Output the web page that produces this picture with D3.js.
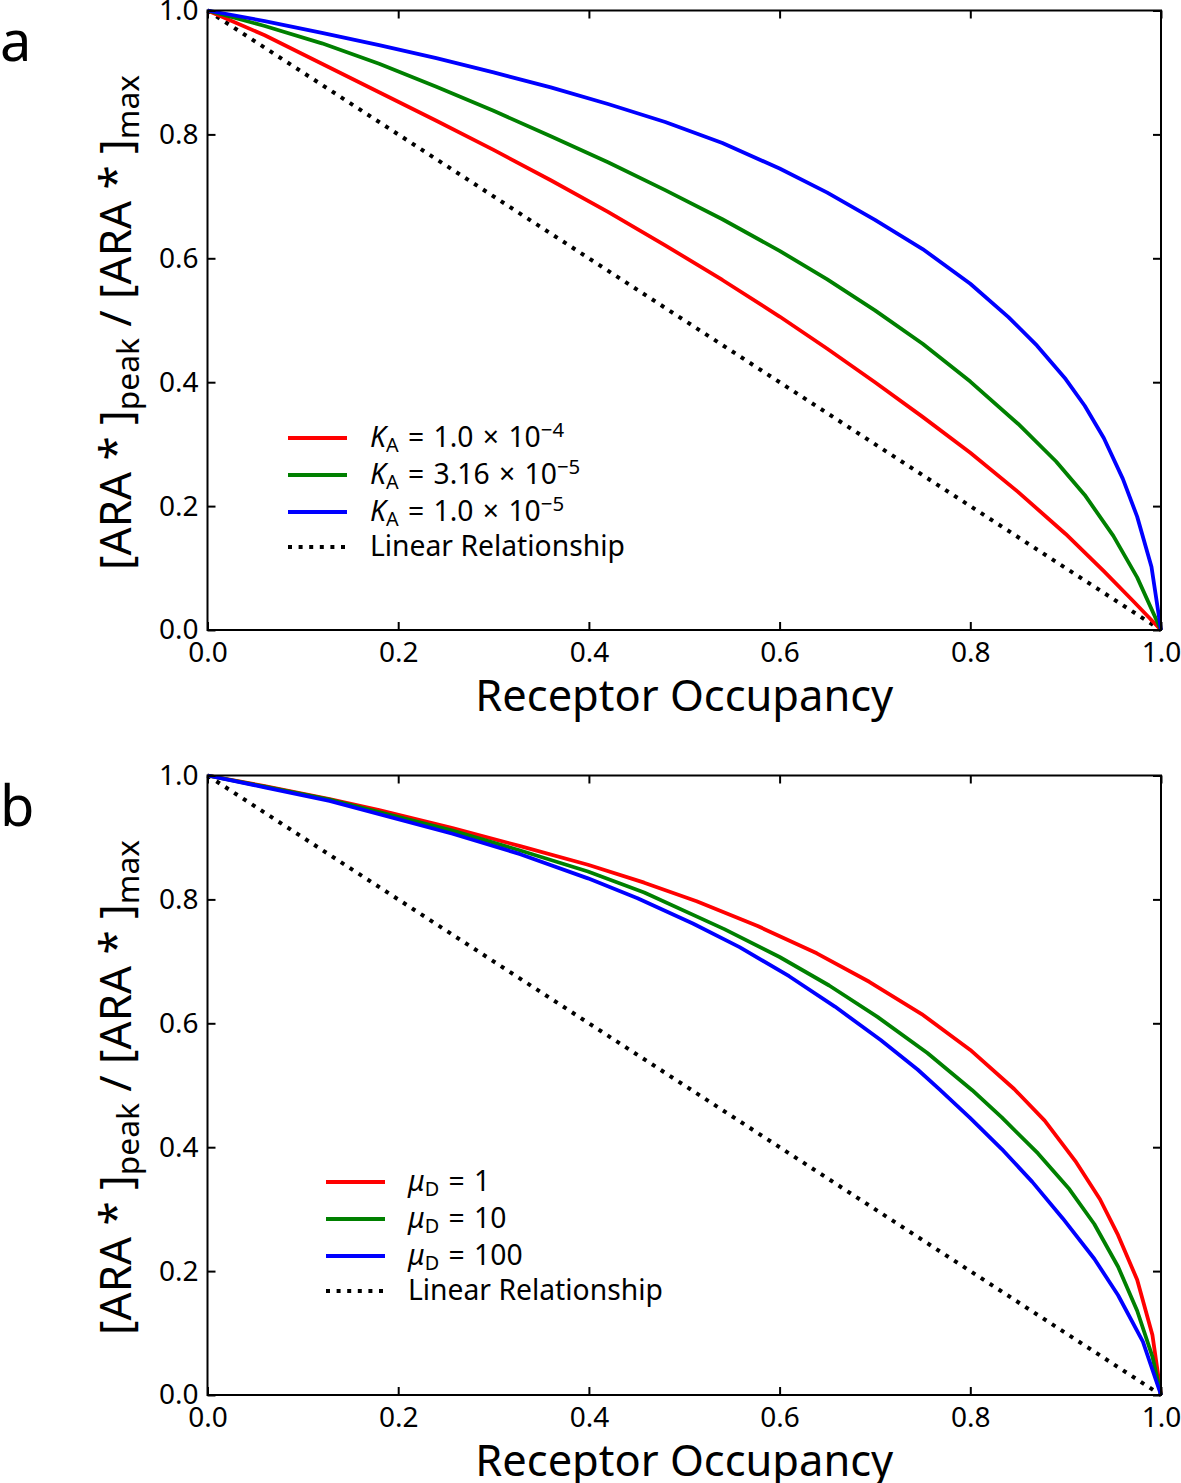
<!DOCTYPE html>
<html><head><meta charset="utf-8">
<script src="https://cdn.jsdelivr.net/npm/d3@7"></script>
<style>
body{margin:0;background:#fff}
text{font-family:"Noto Sans","DejaVu Sans",sans-serif;fill:#000}
</style>
</head><body>
<svg id="c" width="1181" height="1483"></svg>
<script>
// ---- tick values ----
const xTickValues = [0, 0.2, 0.4, 0.6, 0.8, 1.0];
const yTickValues = [0, 0.2, 0.4, 0.6, 0.8, 1.0];

// ---- panel a: varying K_A  ([occupancy, normalised peak]) ----
const aKA_1e4 = [[0,1],[0.06,0.960],[0.12,0.914],[0.18,0.868],[0.24,0.822],[0.30,0.775],[0.36,0.726],[0.42,0.675],[0.48,0.621],[0.54,0.565],[0.60,0.506],[0.65,0.454],[0.70,0.400],[0.75,0.344],[0.80,0.286],[0.85,0.223],[0.90,0.155],[0.94,0.095],[0.97,0.048],[1,0]];
const aKA_316e5 = [[0,1],[0.06,0.975],[0.12,0.947],[0.18,0.914],[0.24,0.877],[0.30,0.838],[0.36,0.797],[0.42,0.755],[0.48,0.710],[0.54,0.663],[0.60,0.612],[0.65,0.566],[0.70,0.516],[0.75,0.462],[0.80,0.401],[0.85,0.333],[0.89,0.272],[0.92,0.218],[0.95,0.152],[0.975,0.085],[1,0]];
const aKA_1e5 = [[0,1],[0.06,0.983],[0.12,0.964],[0.18,0.944],[0.24,0.923],[0.30,0.900],[0.36,0.876],[0.42,0.849],[0.48,0.820],[0.54,0.786],[0.60,0.745],[0.65,0.706],[0.70,0.662],[0.75,0.615],[0.80,0.559],[0.84,0.505],[0.87,0.459],[0.90,0.405],[0.92,0.362],[0.94,0.310],[0.96,0.244],[0.975,0.183],[0.99,0.102],[1,0]];

// ---- panel b: varying mu_D ----
const bMu_1 = [[0,1],[0.06,0.983],[0.128,0.962],[0.18,0.944],[0.257,0.915],[0.328,0.886],[0.399,0.856],[0.458,0.827],[0.513,0.797],[0.577,0.757],[0.639,0.713],[0.694,0.667],[0.749,0.615],[0.800,0.557],[0.846,0.494],[0.878,0.443],[0.910,0.378],[0.936,0.316],[0.955,0.258],[0.975,0.186],[0.991,0.097],[1,0]];
const bMu_10 = [[0,1],[0.06,0.982],[0.128,0.961],[0.257,0.911],[0.328,0.879],[0.399,0.845],[0.458,0.811],[0.542,0.752],[0.600,0.707],[0.652,0.661],[0.703,0.610],[0.755,0.552],[0.802,0.492],[0.833,0.448],[0.871,0.390],[0.904,0.332],[0.930,0.276],[0.955,0.207],[0.975,0.136],[0.991,0.062],[1,0]];
const bMu_100 = [[0,1],[0.06,0.981],[0.128,0.959],[0.257,0.906],[0.328,0.873],[0.399,0.834],[0.451,0.802],[0.509,0.761],[0.558,0.723],[0.610,0.676],[0.658,0.627],[0.706,0.573],[0.745,0.525],[0.768,0.493],[0.800,0.447],[0.833,0.397],[0.865,0.344],[0.897,0.285],[0.930,0.220],[0.955,0.161],[0.981,0.086],[1,0]];

const linearRelationship = [[0,1],[1,0]];

// ---- legend labels ----
const legendA = [
  {sym:"K", sub:"A", rest:"\u2004=\u20041.0\u2004×\u200410", sup:"−4"},
  {sym:"K", sub:"A", rest:"\u2004=\u20043.16\u2004×\u200410", sup:"−5"},
  {sym:"K", sub:"A", rest:"\u2004=\u20041.0\u2004×\u200410", sup:"−5"},
  {plain:"Linear Relationship"}
];
const legendB = [
  {sym:"μ", sub:"D", rest:"\u2004=\u20041"},
  {sym:"μ", sub:"D", rest:"\u2004=\u200410"},
  {sym:"μ", sub:"D", rest:"\u2004=\u2004100"},
  {plain:"Linear Relationship"}
];
const seriesColors = ["#ff0000", "#008000", "#0000ff"];
const xLabel = "Receptor Occupancy";

const svg = d3.select("#c");
const X0 = 207.5, X1 = 1161, PH = 619.5;

function fitFont(sel, target) {
  const fs0 = 30;
  sel.attr("font-size", fs0);
  const w = sel.node().getComputedTextLength();
  const fs = fs0 * target / w;
  sel.attr("font-size", fs);
  return fs;
}

function panel(top, letter, series, legend, lgX, lgY) {
  const g = svg.append("g");
  const x = d3.scaleLinear([0, 1], [X0, X1]);
  const y = d3.scaleLinear([0, 1], [top + PH, top]);
  const line = d3.line().x(d => x(d[0])).y(d => y(d[1]));

  g.append("path").datum(linearRelationship).attr("d", line)
    .attr("fill", "none").attr("stroke", "#000").attr("stroke-width", 4)
    .attr("stroke-dasharray", "4,6.6");
  series.forEach((s, i) => {
    g.append("path").datum(s).attr("d", line)
      .attr("fill", "none").attr("stroke", seriesColors[i]).attr("stroke-width", 3.8)
      .attr("stroke-linejoin", "round");
  });

  // axes
  const fs = 28;
  const ax = (a) => a.tickSizeInner(-8).tickSizeOuter(0);
  const gb = g.append("g").attr("transform", `translate(0,${top + PH})`)
    .call(ax(d3.axisBottom(x).tickValues(xTickValues).tickFormat(d3.format(".1f")).tickPadding(12)));
  const gl = g.append("g").attr("transform", `translate(${X0},0)`)
    .call(ax(d3.axisLeft(y).tickValues(yTickValues).tickFormat(d3.format(".1f")).tickPadding(9)));
  const gt = g.append("g").attr("transform", `translate(0,${top})`)
    .call(ax(d3.axisTop(x).tickValues(xTickValues).tickFormat("")));
  const gr = g.append("g").attr("transform", `translate(${X1},0)`)
    .call(ax(d3.axisRight(y).tickValues(yTickValues).tickFormat("")));
  [gb, gl, gt, gr].forEach(a => {
    a.select(".domain").remove();
    a.selectAll(".tick line").attr("stroke", "#000").attr("stroke-width", 2);
    a.selectAll("text").attr("font-size", fs).attr("font-family", null).style("fill", "#000");
  });
  g.append("rect").attr("x", X0).attr("y", top).attr("width", X1 - X0).attr("height", PH)
    .attr("fill", "none").attr("stroke", "#000").attr("stroke-width", 2);

  // axis labels
  const xl = g.append("text").attr("x", (X0 + X1) / 2).attr("y", top + PH + 81)
    .attr("text-anchor", "middle").text(xLabel);
  fitFont(xl, 418);

  const yl = g.append("text").attr("transform", `translate(131,${top + 312}) rotate(-90)`)
    .attr("text-anchor", "middle");
  yl.append("tspan").text("[ARA * ]");
  yl.append("tspan").attr("dy", "0.25em").attr("font-size", "0.72em").text("peak");
  yl.append("tspan").attr("dy", "-0.18em").text(" / [ARA * ]");
  yl.append("tspan").attr("dy", "0.25em").attr("font-size", "0.72em").text("max");
  fitFont(yl, 495);

  // panel letter
  g.append("text").attr("x", 0).attr("y", top + 50.5).attr("font-size", 56).text(letter);

  // legend
  const rowH = [0, 37, 74, 109];
  legend.forEach((it, i) => {
    const ry = lgY + rowH[i];
    const ln = g.append("line").attr("x1", lgX).attr("x2", lgX + 59).attr("y1", ry).attr("y2", ry)
      .attr("stroke", i < 3 ? seriesColors[i] : "#000").attr("stroke-width", 4);
    if (i === 3) ln.attr("stroke-dasharray", "4,6.6");
    const t = g.append("text").attr("class", "lg").attr("x", lgX + 82).attr("y", ry + 9);
    if (it.plain) { t.attr("class", "lg lgplain").text(it.plain); return; }
    t.append("tspan").attr("font-style", "italic").text(it.sym);
    t.append("tspan").attr("dy", "0.25em").attr("font-size", "0.7em").text(it.sub);
    t.append("tspan").attr("dy", "-0.175em").text(it.rest);
    if (it.sup) t.append("tspan").attr("dy", "-0.5em").attr("font-size", "0.72em").text(it.sup);
  });
  const lfs = fitFont(g.select(".lgplain"), 255);
  g.selectAll(".lg").attr("font-size", lfs);
}

panel(10.5, "a", [aKA_1e4, aKA_316e5, aKA_1e5], legendA, 288, 438);
panel(775.5, "b", [bMu_1, bMu_10, bMu_100], legendB, 326, 1182);
</script>
</body></html>
